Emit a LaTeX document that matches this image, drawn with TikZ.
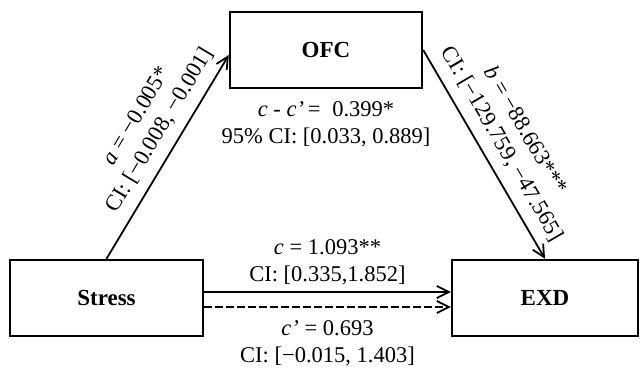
\documentclass[tikz,border=0pt]{standalone}
\usepackage{fontspec}
\setmainfont{Liberation Serif}
\usetikzlibrary{arrows.meta,positioning}

\begin{document}
\begin{tikzpicture}[
    x=0.5pt, y=-0.5pt,
    font=\fontsize{11.25}{13.5}\selectfont,
    var/.style={rectangle, draw=black, line width=1.2pt, minimum height=38pt, font=\fontsize{11.5}{13.5}\selectfont\bfseries},
    path/.style={-{Straight Barb[length=6pt,width=6pt]}, line width=0.9pt},
    lbl/.style={align=center, inner sep=1pt}
]
\useasboundingbox (0,0) rectangle (640,369);

% Variables
\node[var, minimum width=96pt] (ofc) at (326,50) {OFC};
\node[var, minimum width=96.5pt] (stress) at (106.5,298) {Stress};
\node[var, minimum width=93pt] (exd) at (545,298) {EXD};

% Indirect paths
\draw[path] (stress.north) -- ([yshift=-2.5pt]ofc.west)
    node[lbl, sloped, above=4pt, pos=0.58] {\textit{a} = −0.005*\\CI: [−0.008, −0.001]};
\draw[path] (ofc.east) -- (exd.north)
    node[lbl, sloped, above=4pt, pos=0.50] {\textit{b} = −88.663***\\CI: [−129.759, −47.565]};

% Total and direct effect
\draw[path] ([yshift=3pt]stress.east) -- ([yshift=3pt]exd.west)
    node[lbl, midway, above=2pt] {\textit{c} = 1.093**\\CI: [0.335,1.852]};
\draw[path, dash pattern=on 4pt off 1.5pt] ([yshift=-4.5pt]stress.east) -- ([yshift=-4.5pt]exd.west)
    node[lbl, midway, below=5.5pt] {\textit{c’} = 0.693\\CI: [−0.015, 1.403]};

% Indirect effect
\node[lbl, below=5pt of ofc] (ind) {\textit{c} - \textit{c’}\,=\; 0.399*\\95\% CI: [0.033, 0.889]};

\end{tikzpicture}
\end{document}
